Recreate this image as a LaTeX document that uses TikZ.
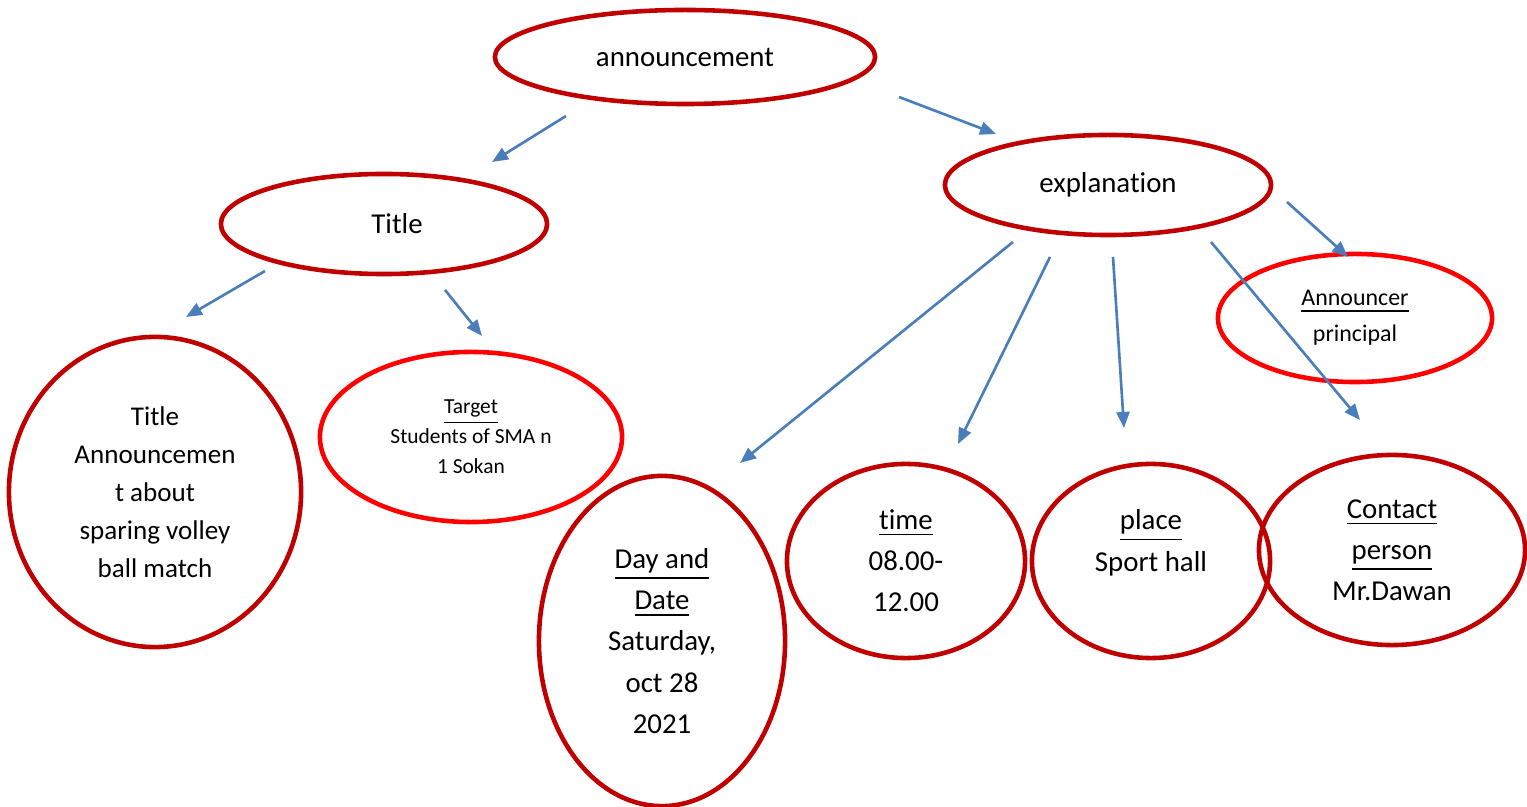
\documentclass[tikz,border=0pt]{standalone}
\usepackage{fontspec}
\setmainfont{Carlito}[Ligatures=NoCommon]
\usetikzlibrary{arrows.meta,shapes.geometric}
\definecolor{darkred}{HTML}{C00000}
\definecolor{brightred}{HTML}{FF0000}
\definecolor{arrowblue}{HTML}{4A7EBB}

\begin{document}
\begin{tikzpicture}[x=0.01cm, y=-0.01cm, >={Triangle[length=0.16cm, width=0.13cm]},
    topic/.style={draw=darkred, line width=1.3pt, ellipse, inner sep=0pt, align=center, font=\fontsize{8.2}{11.7}\selectfont},
    note/.style={draw=brightred, line width=1.3pt, ellipse, inner sep=0pt, align=center},
    link/.style={->, arrowblue, line width=0.75pt}]
    \useasboundingbox (0,0) rectangle (1527,807);
    % Main nodes
    \node[topic, minimum width=3.8cm, minimum height=0.94cm] (ann) at (685,57) {announcement};
    \node[topic, minimum width=3.26cm, minimum height=1.0cm] (title) at (384,224) {\hspace*{0.26cm}Title};
    \node[topic, minimum width=3.26cm, minimum height=1.0cm] (expl) at (1108,185) {explanation};
    % Children of Title
    \node[topic, minimum width=2.92cm, minimum height=3.1cm, font=\fontsize{7.7}{10.8}\selectfont] (titleann) at (155,492)
        {Title\\Announcemen\\t about\\sparing volley\\ball match};
    \node[note, minimum width=3.02cm, minimum height=1.7cm, font=\fontsize{6.1}{8.5}\selectfont] (target) at (471,437)
        {\underline{Target}\\Students of SMA n\\1 Sokan};
    % Children of explanation
    \node[note, minimum width=2.74cm, minimum height=1.28cm, font=\fontsize{6.8}{10.2}\selectfont] (announcer) at (1355,318)
        {\underline{Announcer}\\principal};
    \node[topic, minimum width=2.46cm, minimum height=3.3cm] (day) at (662,641)
        {\underline{Day and}\\\underline{Date}\\Saturday,\\oct 28\\2021};
    \node[topic, minimum width=2.38cm, minimum height=1.94cm] (time) at (906,561)
        {\underline{time}\\08.00-\\12.00};
    \node[topic, minimum width=2.38cm, minimum height=1.94cm] (place) at (1151,561)
        {\underline{place}\\Sport hall\\~};
    \node[topic, minimum width=2.66cm, minimum height=1.9cm] (contact) at (1392,550)
        {\underline{Contact}\\\underline{person}\\Mr.Dawan};
    % Arrow ends
    \coordinate (a1s) at (566,116); \coordinate (a1e) at (492,162);
    \coordinate (a2s) at (899,97);  \coordinate (a2e) at (996,134);
    \coordinate (a3s) at (265,271); \coordinate (a3e) at (186,317);
    \coordinate (a4s) at (445,290); \coordinate (a4e) at (482,336);
    \coordinate (a5s) at (1013,242); \coordinate (a5e) at (740,463);
    \coordinate (a6s) at (1050,257); \coordinate (a6e) at (958,444);
    \coordinate (a7s) at (1113,257); \coordinate (a7e) at (1124,428);
    \coordinate (a8s) at (1211,242); \coordinate (a8e) at (1360,420);
    \coordinate (a9s) at (1287,202); \coordinate (a9e) at (1348,257);
    % Arrows
    \draw[link] (a1s) -- (a1e);
    \draw[link] (a2s) -- (a2e);
    \draw[link] (a3s) -- (a3e);
    \draw[link] (a4s) -- (a4e);
    \draw[link] (a5s) -- (a5e);
    \draw[link] (a6s) -- (a6e);
    \draw[link] (a7s) -- (a7e);
    \draw[link] (a8s) -- (a8e);
    \draw[link] (a9s) -- (a9e);
\end{tikzpicture}
\end{document}
